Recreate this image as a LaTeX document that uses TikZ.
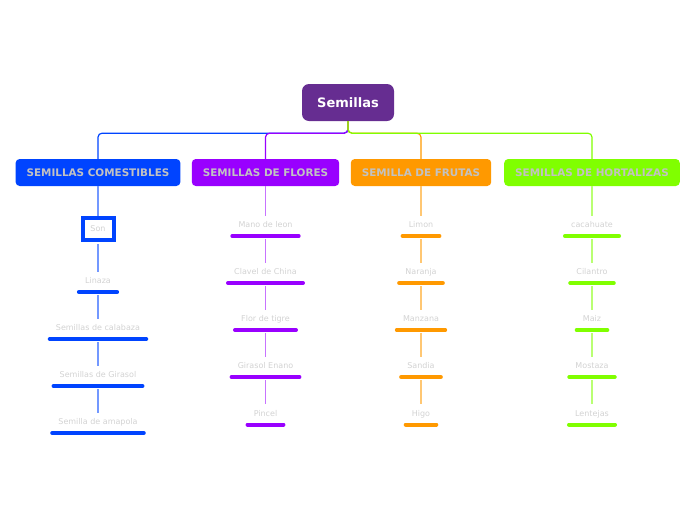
\documentclass[tikz,border=0pt]{standalone}
\usepackage{fontspec}
\setmainfont{DejaVu Sans}
\usetikzlibrary{positioning}
\definecolor{sroot}{HTML}{662D91}
\definecolor{sblue}{HTML}{0044FF}
\definecolor{sviolet}{HTML}{9900FF}
\definecolor{sorange}{HTML}{FF9900}
\definecolor{sgreen}{HTML}{80FF00}
\definecolor{captxt}{HTML}{C2C2C2}
\definecolor{leaftxt}{HTML}{D2D2D2}
\tikzset{
  smroot/.style = {fill=sroot, rounded corners=7pt, minimum width=92pt, minimum height=37pt,
                   font=\fontsize{13}{15}\selectfont\bfseries, text=white},
  smcat/.style  = {fill=#1, rounded corners=4pt, minimum height=27pt, inner xsep=11pt,
                   font=\fontsize{10.4}{12}\selectfont\bfseries, text=captxt},
  smleaf/.style = {anchor=south, inner xsep=6pt, inner ysep=6pt, text height=6pt, text depth=2pt,
                   font=\fontsize{8}{9.6}\selectfont, text=leaftxt,
                   append after command={(\tikzlastnode.south west)
                     edge[draw=#1, line width=4pt, line cap=round] (\tikzlastnode.south east)}},
  smson/.style  = {draw=sblue, line width=4pt, fill=white, minimum width=31pt, minimum height=22pt,
                   inner sep=0pt, font=\fontsize{8}{9.6}\selectfont, text=leaftxt},
  smtop/.style  = {draw=#1, line width=1.2pt, rounded corners=4pt},
  smlink/.style = {draw=#1!55, line width=1.2pt},
}

\begin{document}
\begin{tikzpicture}[x=1pt, y=-1pt]
\useasboundingbox (0,0) rectangle (696,520);

\node[smroot] (root) at (348,102.5) {Semillas};

\node[smcat=sblue]   (comest) at (98,172.5)  {SEMILLAS COMESTIBLES};
\node[smcat=sviolet] (flores) at (265.5,172.5) {SEMILLAS DE FLORES};
\node[smcat=sorange] (frutas) at (421,172.5) {SEMILLA DE FRUTAS};
\node[smcat=sgreen]  (hortal) at (592,172.5) {SEMILLAS DE HORTALIZAS};

\draw[smtop=sblue]   (root.south) -- ++(0,12) -| (comest.north);
\draw[smtop=sviolet] (root.south) -- ++(0,12) -| (flores.north);
\draw[smtop=sorange] (root.south) -- ++(0,12) -| (frutas.north);
\draw[smtop=sgreen]  (root.south) -- ++(0,12) -| (hortal.north);

\node[smson] (son) at (98,229) {Son};
\node[smleaf=sblue] (c1) at (98,292) {Linaza};
\node[smleaf=sblue] (c2) at (98,339) {Semillas de calabaza};
\node[smleaf=sblue] (c3) at (98,386) {Semillas de Girasol};
\node[smleaf=sblue] (c4) at (98,433) {Semilla de amapola};

\node[smleaf=sviolet] (f1) at (265.5,236) {Mano de leon};
\node[smleaf=sviolet] (f2) at (265.5,283) {Clavel de China};
\node[smleaf=sviolet] (f3) at (265.5,330) {Flor de tigre};
\node[smleaf=sviolet] (f4) at (265.5,377) {Girasol Enano};
\node[smleaf=sviolet] (f5) at (265.5,424.5) {Pincel};

\node[smleaf=sorange] (r1) at (421,236) {Limon};
\node[smleaf=sorange] (r2) at (421,283) {Naranja};
\node[smleaf=sorange] (r3) at (421,330) {Manzana};
\node[smleaf=sorange] (r4) at (421,377) {Sandia};
\node[smleaf=sorange] (r5) at (421,424.5) {Higo};

\node[smleaf=sgreen] (h1) at (592,236) {cacahuate};
\node[smleaf=sgreen] (h2) at (592,283) {Cilantro};
\node[smleaf=sgreen] (h3) at (592,330) {Maiz};
\node[smleaf=sgreen] (h4) at (592,377) {Mostaza};
\node[smleaf=sgreen] (h5) at (592,424.5) {Lentejas};

\draw[smlink=sblue] (comest.south) -- (son.north);
\draw[smlink=sblue, shorten <=2pt] (son.south) -- (c1.north);
\draw[smlink=sblue, shorten <=3pt] (c1.south) -- (c2.north);
\draw[smlink=sblue, shorten <=3pt] (c2.south) -- (c3.north);
\draw[smlink=sblue, shorten <=3pt] (c3.south) -- (c4.north);

\draw[smlink=sviolet] (flores.south) -- (f1.north);
\draw[smlink=sviolet, shorten <=3pt] (f1.south) -- (f2.north);
\draw[smlink=sviolet, shorten <=3pt] (f2.south) -- (f3.north);
\draw[smlink=sviolet, shorten <=3pt] (f3.south) -- (f4.north);
\draw[smlink=sviolet, shorten <=3pt] (f4.south) -- (f5.north);

\draw[smlink=sorange] (frutas.south) -- (r1.north);
\draw[smlink=sorange, shorten <=3pt] (r1.south) -- (r2.north);
\draw[smlink=sorange, shorten <=3pt] (r2.south) -- (r3.north);
\draw[smlink=sorange, shorten <=3pt] (r3.south) -- (r4.north);
\draw[smlink=sorange, shorten <=3pt] (r4.south) -- (r5.north);

\draw[smlink=sgreen] (hortal.south) -- (h1.north);
\draw[smlink=sgreen, shorten <=3pt] (h1.south) -- (h2.north);
\draw[smlink=sgreen, shorten <=3pt] (h2.south) -- (h3.north);
\draw[smlink=sgreen, shorten <=3pt] (h3.south) -- (h4.north);
\draw[smlink=sgreen, shorten <=3pt] (h4.south) -- (h5.north);
\end{tikzpicture}
\end{document}
